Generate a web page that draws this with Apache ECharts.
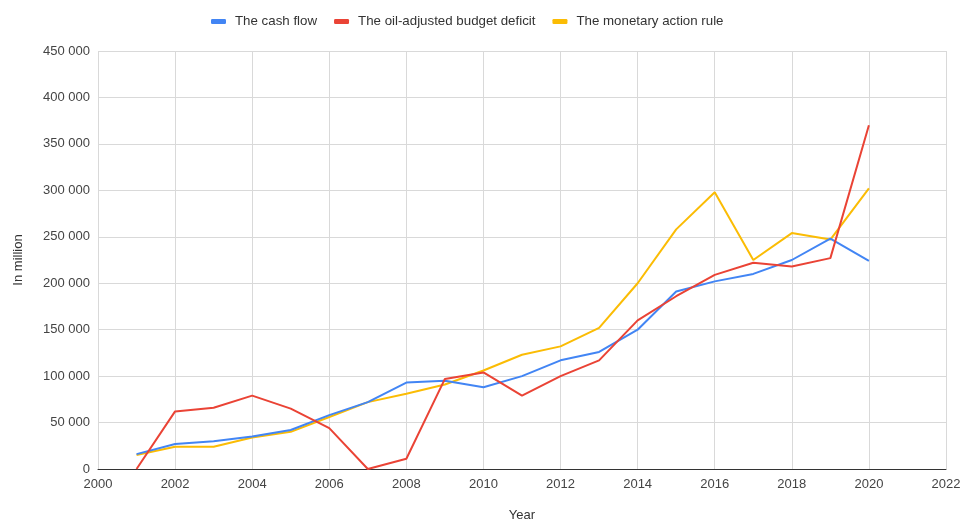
<!DOCTYPE html>
<html>
<head>
<meta charset="utf-8">
<title>Cash flow, budget deficit and monetary action rule</title>
<script src="https://cdn.jsdelivr.net/npm/echarts@6/dist/echarts.min.js"></script>
<style>
  html, body { margin: 0; padding: 0; background: #ffffff; }
  #chart { width: 963px; height: 521px; }
</style>
</head>
<body>
<div id="chart"></div>
<script>
// Years covered by the series
const years = [2001, 2002, 2003, 2004, 2005, 2006, 2007, 2008, 2009, 2010,
               2011, 2012, 2013, 2014, 2015, 2016, 2017, 2018, 2019, 2020];

// Values in million
const cashFlow = [16000, 27000, 30000, 35000, 42000, 58000, 72000, 93000, 95000, 88000,
                  100000, 117000, 126000, 150000, 191000, 202000, 210000, 225000, 248000, 224000];
const oilAdjustedDeficit = [0, 62000, 66000, 79000, 65000, 44000, 0, 11000, 97000, 104000,
                            79000, 100000, 117000, 160000, 186000, 209000, 222000, 218000, 227000, 370000];
const monetaryActionRule = [15000, 24000, 24000, 34000, 40000, 56000, 72000, 81000, 91000, 106000,
                            123000, 132000, 152000, 200000, 258000, 298000, 225000, 254000, 247000, 302000];

const seriesNames = ['The cash flow', 'The oil-adjusted budget deficit', 'The monetary action rule'];
const seriesColors = ['#4285F4', '#EA4335', '#FBBC04'];

const pairs = (vals) => years.map((y, i) => [y, vals[i]]);
const fmtThousands = (v) => String(v).replace(/\B(?=(\d{3})+(?!\d))/g, ' ');

const chart = echarts.init(document.getElementById('chart'), null, { renderer: 'canvas' });
const fontFamily = 'Liberation Sans, Arial, sans-serif';

chart.setOption({
  animation: false,
  backgroundColor: '#ffffff',
  textStyle: { fontFamily: fontFamily },
  color: seriesColors,
  legend: {
    top: 10,
    left: 206,
    itemWidth: 15,
    itemHeight: 5,
    itemGap: 17,
    icon: 'roundRect',
    textStyle: { fontSize: 13.3, color: '#333333', fontFamily: fontFamily, padding: [0, 0, 0, 4] },
    data: seriesNames
  },
  grid: { left: 98, right: 17, top: 51, bottom: 52, containLabel: false, outerBoundsMode: 'none' },
  xAxis: {
    type: 'value',
    min: 2000,
    max: 2022,
    interval: 2,
    name: 'Year',
    nameLocation: 'middle',
    nameGap: 40,
    nameTextStyle: { fontSize: 13, color: '#333333' },
    axisLine: { show: true, onZero: false, lineStyle: { color: '#333333', width: 1 } },
    axisTick: { show: false },
    axisLabel: { color: '#444444', fontSize: 13, margin: 9, formatter: (v) => String(v) },
    splitLine: { show: true, lineStyle: { color: '#d9d9d9', width: 1 } }
  },
  yAxis: {
    type: 'value',
    min: 0,
    max: 450000,
    interval: 50000,
    name: 'In million',
    nameLocation: 'middle',
    nameGap: 73,
    nameRotate: 90,
    nameTextStyle: { fontSize: 13, color: '#333333' },
    axisLine: { show: false },
    axisTick: { show: false },
    axisLabel: { color: '#444444', fontSize: 13, margin: 8, formatter: fmtThousands },
    splitLine: { show: true, lineStyle: { color: '#d9d9d9', width: 1 } }
  },
  series: [
    { name: seriesNames[0], type: 'line', data: pairs(cashFlow), showSymbol: false,
      lineStyle: { width: 2 }, z: 3 },
    { name: seriesNames[1], type: 'line', data: pairs(oilAdjustedDeficit), showSymbol: false,
      lineStyle: { width: 2 }, z: 4 },
    { name: seriesNames[2], type: 'line', data: pairs(monetaryActionRule), showSymbol: false,
      lineStyle: { width: 2 }, z: 2 }
  ]
});
</script>
</body>
</html>
